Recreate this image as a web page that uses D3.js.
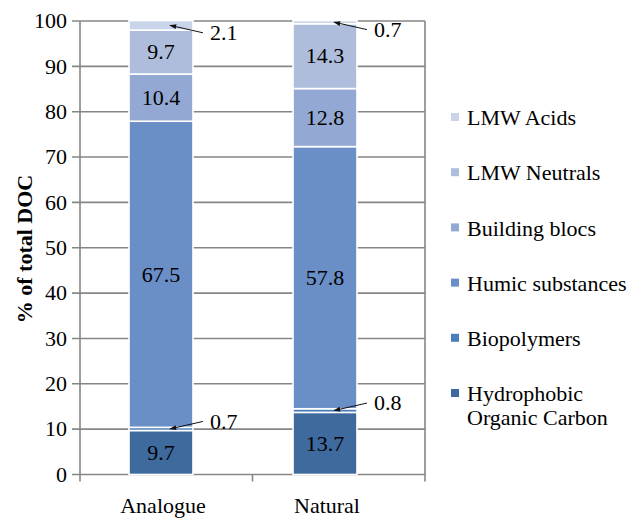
<!DOCTYPE html>
<html>
<head>
<meta charset="utf-8">
<script src="https://cdn.jsdelivr.net/npm/d3@7"></script>
<style>
  html, body { margin: 0; padding: 0; background: #fff; }
  svg { display: block; }
  svg text { font-family: "Liberation Serif", "Times New Roman", Times, serif; fill: #000; }
</style>
</head>
<body>
<svg id="chart" width="631" height="518"></svg>
<script>
/* stacked % of DOC, two samples */

const samples = ['Analogue', 'Natural'];
const fractions = ['Hydrophobic Organic Carbon', 'Biopolymers', 'Humic substances',
  'Building blocs', 'LMW Neutrals', 'LMW Acids'];
const analogue = [9.7, 0.7, 67.5, 10.4, 9.7, 2.1];
const natural = [13.7, 0.8, 57.8, 12.8, 14.3, 0.7];
const colours = ['#3E6A9E', '#4A7EBB', '#6A8EC6', '#93A9D3', '#AEBDDC', '#C9D3E9'];
const yTicks = [0, 10, 20, 30, 40, 50, 60, 70, 80, 90, 100];
// small segments get a callout arrow instead of an inside label
const callouts = [
  { sample: 'Analogue', key: 'LMW Acids', dir: 1 },
  { sample: 'Analogue', key: 'Biopolymers', dir: -1 },
  { sample: 'Natural', key: 'LMW Acids', dir: 1 },
  { sample: 'Natural', key: 'Biopolymers', dir: -1 },
];

const rows = samples.map((s, i) => {
  const vals = i === 0 ? analogue : natural;
  const r = { sample: s };
  fractions.forEach((f, j) => r[f] = vals[j]);
  return r;
});
const series = d3.stack().keys(fractions)(rows);

const svg = d3.select('#chart');
const gray = '#868686';
const FS = 22;

const y = d3.scaleLinear().domain([0, 100]).range([474.5, 21]);
const x = d3.scaleBand().domain(samples).range([79, 407])
  .paddingInner(0.61).paddingOuter(0.305);
const frame = d3.scaleLinear().domain([0, samples.length]).range([80, 425]);

// arrowhead
svg.append('defs').append('marker')
  .attr('id', 'arr').attr('viewBox', '0 0 10 10').attr('refX', 9).attr('refY', 5)
  .attr('markerWidth', 7).attr('markerHeight', 7).attr('orient', 'auto')
  .append('path').attr('d', 'M0,1.5 L10,5 L0,8.5 Z').attr('fill', '#111');

// gridlines + y ticks
svg.append('g').selectAll('line').data(yTicks).join('line')
  .attr('x1', frame(0) - 8).attr('x2', frame(2))
  .attr('y1', d => y(d)).attr('y2', d => y(d))
  .attr('stroke', gray).attr('stroke-width', 1.6);

svg.append('g').selectAll('text').data(yTicks).join('text')
  .attr('x', 67).attr('y', d => y(d)).attr('dy', '0.33em')
  .attr('text-anchor', 'end').attr('font-size', FS).text(d => d);

// frame: left axis, right border, category ticks
[0, 1, 2].forEach(i => {
  const top = i === 1 ? y(0) : y(100);
  svg.append('line').attr('x1', frame(i)).attr('x2', frame(i))
    .attr('y1', top).attr('y2', y(0) + 7)
    .attr('stroke', gray).attr('stroke-width', 1.6);
});

// bars
svg.append('g').selectAll('g').data(series).join('g')
  .attr('fill', (d, i) => colours[i])
  .selectAll('rect').data(d => d).join('rect')
  .attr('x', d => x(d.data.sample))
  .attr('width', x.bandwidth())
  .attr('y', d => y(d[1]))
  .attr('height', d => y(d[0]) - y(d[1]))
  .attr('stroke', '#fff').attr('stroke-width', 1.6);

// inside labels for big segments
const big = [];
series.forEach(s => s.forEach(d => {
  const v = d[1] - d[0];
  if (v >= 5) big.push({ v, x: x(d.data.sample) + x.bandwidth() / 2, y: y((d[0] + d[1]) / 2) });
}));
svg.append('g').selectAll('text').data(big).join('text')
  .attr('x', d => d.x).attr('y', d => d.y).attr('dy', '0.33em')
  .attr('text-anchor', 'middle').attr('font-size', FS).text(d => d.v.toFixed(1));

// callouts
callouts.forEach(c => {
  const s = series.find(q => q.key === c.key);
  const d = s.find(q => q.data.sample === c.sample);
  const v = d[1] - d[0];
  const tipX = x(c.sample) + x.bandwidth() / 2 + 9;
  const tipY = y((d[0] + d[1]) / 2);
  const tailX = x(c.sample) + x.bandwidth() + 10;
  const tailY = tipY + c.dir * 7.5;
  svg.append('line').attr('x1', tailX).attr('y1', tailY).attr('x2', tipX).attr('y2', tipY)
    .attr('stroke', '#111').attr('stroke-width', 1).attr('marker-end', 'url(#arr)');
  svg.append('text').attr('x', tailX + 7).attr('y', tailY).attr('dy', '0.33em')
    .attr('font-size', FS).text(v.toFixed(1));
});

// category labels
svg.append('g').selectAll('text').data(samples).join('text')
  .attr('x', d => x(d) + x.bandwidth() / 2 + 2).attr('y', 513)
  .attr('text-anchor', 'middle').attr('font-size', FS).text(d => d);

// y title
svg.append('text')
  .attr('transform', 'translate(32,249) rotate(-90)')
  .attr('text-anchor', 'middle').attr('font-size', FS).attr('font-weight', 'bold')
  .text('% of total DOC');

// legend, top entry = last series
const legend = fractions.map((f, i) => ({ f, c: colours[i] })).reverse();
const lg = svg.append('g').selectAll('g').data(legend).join('g')
  .attr('transform', (d, i) => `translate(451,${118 + i * 55.2})`);
lg.append('rect').attr('x', 0).attr('y', -5).attr('width', 8).attr('height', 8)
  .attr('fill', d => d.c);
lg.append('text').attr('x', 16).attr('font-size', FS)
  .each(function (d) {
    const lines = d.f === 'Hydrophobic Organic Carbon' ? ['Hydrophobic', 'Organic Carbon'] : [d.f];
    d3.select(this).selectAll('tspan').data(lines).join('tspan')
      .attr('x', 16).attr('dy', (l, k) => k === 0 ? '0.33em' : '1.1em').text(l => l);
  });
</script>
</body>
</html>
